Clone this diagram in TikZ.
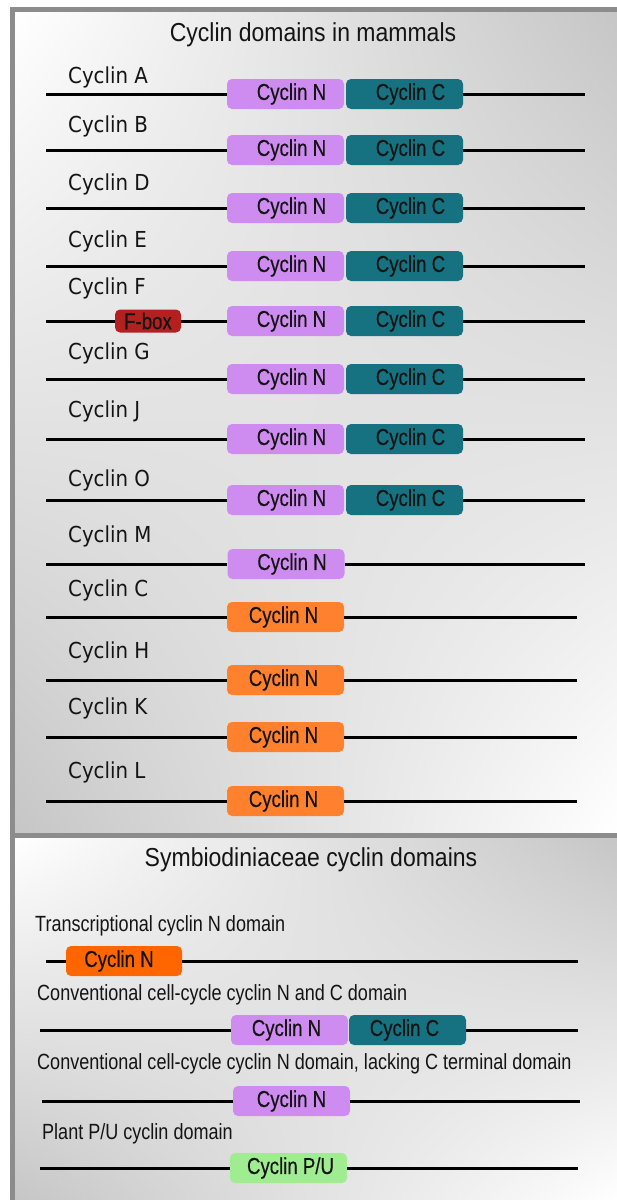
\documentclass[tikz,border=0pt]{standalone}
\usepackage{fontspec}
\usetikzlibrary{shadings}
\setmainfont{Liberation Sans}
\newfontfamily\namefont[FakeStretch=0.9]{DejaVu Sans}
\newfontfamily\domfont[FakeStretch=0.81,FakeBold=0.4]{Liberation Sans}
\newfontfamily\headfont[FakeStretch=0.885]{Liberation Sans}
\newfontfamily\descfont[FakeStretch=0.82]{Liberation Sans}

\definecolor{cycN}{RGB}{206,140,240}
\definecolor{cycC}{RGB}{22,114,128}
\definecolor{cycO}{RGB}{255,128,45}
\definecolor{cycT}{RGB}{255,102,0}
\definecolor{cycPU}{RGB}{160,236,144}
\definecolor{fboxred}{RGB}{180,32,32}
\definecolor{frame}{RGB}{140,140,140}
\definecolor{bgdark}{RGB}{198,198,198}
\definecolor{ink}{RGB}{20,20,20}

\tikzset{
  dom/.style={rounded corners=5pt, minimum width=117pt, minimum height=30pt,
    inner sep=0pt, font=\domfont\fontsize{23}{25}\selectfont, text=ink},
  tx/.style={execute at begin node={\hspace*{#1}}},
  ncyc/.style={dom, fill=cycN},
  ccyc/.style={dom, fill=cycC},
  ocyc/.style={dom, fill=cycO},
  tcyc/.style={dom, fill=cycT, minimum width=116pt},
  pucyc/.style={dom, fill=cycPU},
  fboxdom/.style={dom, fill=fboxred, minimum width=66pt, minimum height=23pt},
  seq/.style={line width=3pt, black},
  cname/.style={anchor=base west, inner sep=0pt, text=ink,
    font=\namefont\fontsize{22}{24}\selectfont},
  desc/.style={anchor=base west, inner sep=0pt, text=ink,
    font=\descfont\fontsize{22}{24}\selectfont},
  head/.style={anchor=base, inner sep=0pt, text=ink,
    font=\headfont\fontsize{26}{28}\selectfont},
  panel/.style={upper left=white, upper right=bgdark,
    lower left=bgdark, lower right=white}
}

\begin{document}
\begin{tikzpicture}[x=1pt, y=-1pt]
  \useasboundingbox (0,0) rectangle (617,1200);
  \fill[white] (0,0) rectangle (617,1200);
  % frames and shaded panels
  \fill[frame] (10,7) rectangle (617,1200);
  \shade[panel] (15,12) rectangle (617,832);
  \shade[panel] (15,838) rectangle (617,1200);

  % ---------- mammals ----------
  \node[head] (head1) at (313,41.7) {Cyclin domains in mammals};

  % cyclins with N and C domains
  \foreach \k/\y/\b in {A/94/83, B/150/132, D/208/190, E/266/247,
                        G/379/359, J/439/417, O/500/486}{
    \node[cname] (t\k) at (68,\b) {Cyclin \k};
    \node[ncyc, tx=12pt] (n\k) at (285.5,\y) {Cyclin N};
    \node[ccyc, tx=12pt] (c\k) at (404.5,\y) {Cyclin C};
    \coordinate (l\k) at (46,\y);
    \coordinate (r\k) at (585,\y);
    \draw[seq] (l\k) -- (n\k);
    \draw[seq] (c\k) -- (r\k);
  }

  % cyclin F with its F-box
  \node[cname] (tF) at (68,294) {Cyclin F};
  \node[fboxdom] (fF) at (148,321) {F-box};
  \node[ncyc, tx=12pt] (nF) at (285.5,321) {Cyclin N};
  \node[ccyc, tx=12pt] (cF) at (404.5,321) {Cyclin C};
  \coordinate (lF) at (46,321);
  \coordinate (rF) at (585,321);
  \draw[seq] (lF) -- (fF);
  \draw[seq] (fF) -- (nF);
  \draw[seq] (cF) -- (rF);

  % cyclin M: N domain only
  \node[cname] (tM) at (68,542) {Cyclin M};
  \node[ncyc, tx=12pt] (nM) at (286,564) {Cyclin N};
  \coordinate (lM) at (46,564);
  \coordinate (rM) at (585,564);
  \draw[seq] (lM) -- (nM);
  \draw[seq] (nM) -- (rM);

  % transcriptional cyclins
  \foreach \k/\y/\b in {C/617/596, H/680/658, K/737/714, L/801/778}{
    \node[cname] (t\k) at (68,\b) {Cyclin \k};
    \node[ocyc, tx=-4pt] (o\k) at (285.5,\y) {Cyclin N};
    \coordinate (l\k) at (46,\y);
    \coordinate (r\k) at (577,\y);
    \draw[seq] (l\k) -- (o\k);
    \draw[seq] (o\k) -- (r\k);
  }

  % ---------- Symbiodiniaceae ----------
  \node[head] (head2) at (311,866) {Symbiodiniaceae cyclin domains};

  \node[desc] (d1) at (35,931) {Transcriptional cyclin N domain};
  \node[tcyc, tx=-10pt] (s1n) at (124,961) {Cyclin N};
  \coordinate (s1l) at (46,961);
  \coordinate (s1r) at (578,961);
  \draw[seq] (s1l) -- (s1n);
  \draw[seq] (s1n) -- (s1r);

  \node[desc] (d2) at (37,1000) {Conventional cell-cycle cyclin N and C domain};
  \node[ncyc, tx=-6pt] (s2n) at (289.5,1030) {Cyclin N};
  \node[ccyc, tx=-6pt] (s2c) at (407.5,1030) {Cyclin C};
  \coordinate (s2l) at (40,1030);
  \coordinate (s2r) at (578,1030);
  \draw[seq] (s2l) -- (s2n);
  \draw[seq] (s2c) -- (s2r);

  \node[desc] (d3) at (37,1069) {Conventional cell-cycle cyclin N domain, lacking C terminal domain};
  \node[ncyc] (s3n) at (291.5,1101) {Cyclin N};
  \coordinate (s3l) at (42,1101);
  \coordinate (s3r) at (580,1101);
  \draw[seq] (s3l) -- (s3n);
  \draw[seq] (s3n) -- (s3r);

  \node[desc] (d4) at (42,1139) {Plant P/U cyclin domain};
  \node[pucyc, tx=4pt] (s4p) at (288.5,1168) {Cyclin P/U};
  \coordinate (s4l) at (40,1168);
  \coordinate (s4r) at (578,1168);
  \draw[seq] (s4l) -- (s4p);
  \draw[seq] (s4p) -- (s4r);
\end{tikzpicture}
\end{document}
